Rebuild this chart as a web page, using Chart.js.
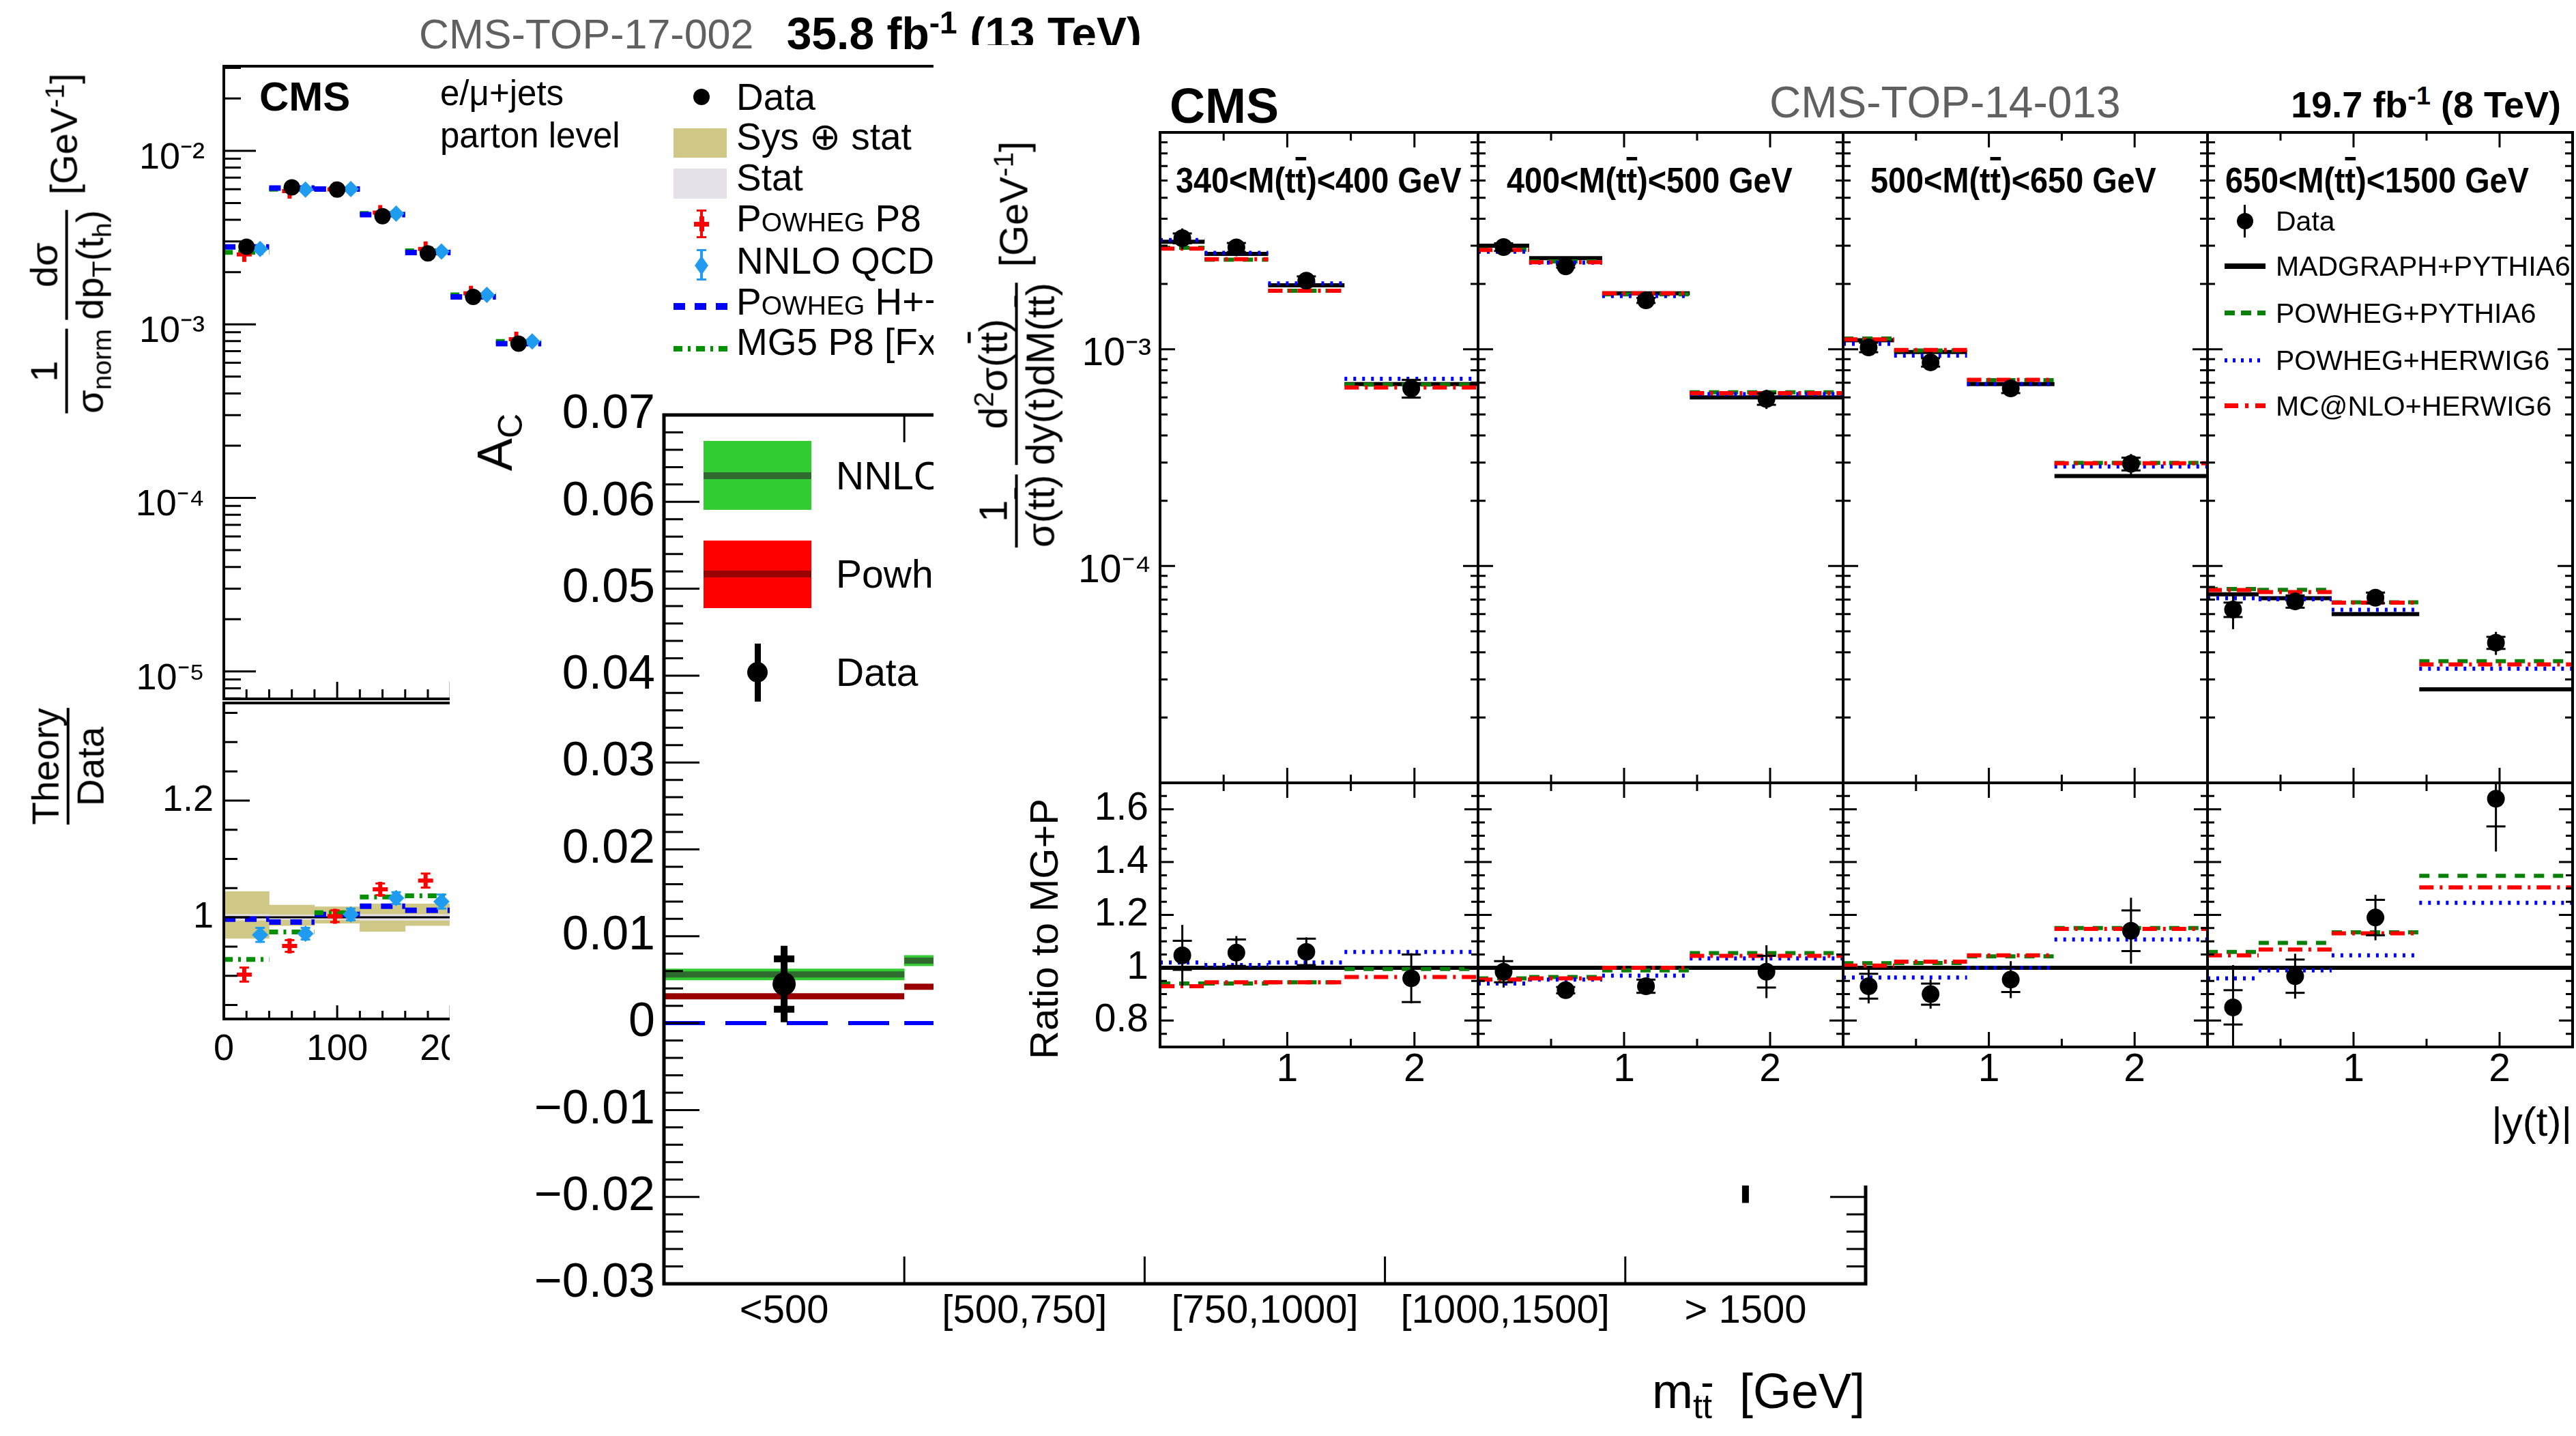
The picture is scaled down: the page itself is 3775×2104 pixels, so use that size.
<!DOCTYPE html>
<html>
<head>
<meta charset="utf-8">
<script src="https://cdn.jsdelivr.net/npm/chart.js@4.4.1/dist/chart.umd.min.js"></script>
<style>
  html, body { margin: 0; padding: 0; background: #fff; }
  body { width: 3775px; height: 2104px; position: relative; overflow: hidden;
         font-family: "Liberation Sans", Arial, Helvetica, sans-serif; }
  .plot { position: absolute; overflow: hidden; background: #fff; }
  .t { position: absolute; white-space: nowrap; line-height: 1; color: #000; }
  .t sub, .t sup { font-size: 0.7em; line-height: 0; }
  .frac { display: inline-flex; flex-direction: column; align-items: center; vertical-align: middle; margin: 0 0.12em; }
  .frac .bar { align-self: stretch; border-top: 0.075em solid #000; margin: 0.06em 0; }
  .ol { text-decoration: overline; }
  .sc { font-variant: small-caps; }
</style>
</head>
<body>
<div id="pL" class="plot" style="left:0;top:0;width:1700px;height:1700px;z-index:1"></div>
<div id="pA" class="plot" style="left:659px;top:545px;width:2101px;height:1559px;z-index:2"></div>
<div id="pR" class="plot" style="left:1368px;top:66px;width:2407px;height:1671px;z-index:3"></div>
<script>
// ===== CMS-TOP-17-002 (13 TeV): normalised dsigma/dpT(t_h), parton level =====
const ptEdges = [0, 40, 80, 120, 160, 200, 240, 280];
const ptTicks = [0, 100, 200, 300, 400, 500, 600, 700, 800];
const ptData = [2.80e-3, 6.15e-3, 5.98e-3, 4.20e-3, 2.56e-3, 1.44e-3, 7.74e-4];
const ptPowhegP8 = [2.53e-3, 5.85e-3, 5.99e-3, 4.40e-3, 2.72e-3, 1.51e-3, 8.2e-4];
const ptNnlo = [2.72e-3, 5.98e-3, 6.01e-3, 4.34e-3, 2.63e-3, 1.48e-3, 7.97e-4];
const ptPowhegHpp = [2.79e-3, 6.10e-3, 6.01e-3, 4.28e-3, 2.59e-3, 1.44e-3, 7.74e-4];
const ptMg5Fxfx = [2.60e-3, 6.00e-3, 6.03e-3, 4.35e-3, 2.65e-3, 1.48e-3, 7.97e-4];
// theory / data
const ratPowhegP8 = [0.902, 0.951, 1.002, 1.048, 1.063, 1.05, 1.06];
const ratNnlo = [0.970, 0.972, 1.005, 1.033, 1.027, 1.03, 1.03];
const ratPowhegHpp = [0.997, 0.992, 1.005, 1.019, 1.012, 1.0, 1.0];
const ratMg5Fxfx = [0.928, 0.975, 1.008, 1.035, 1.037, 1.03, 1.03];
const ratTheoryErr = [0.012, 0.010, 0.010, 0.010, 0.012, 0.012, 0.012];
const sysLo = [0.964, 0.986, 0.990, 0.976, 0.986, 0.970, 0.970];
const sysHi = [1.044, 1.021, 1.018, 1.023, 1.023, 1.030, 1.030];
const statLo = [0.995, 0.996, 0.996, 0.995, 0.995, 0.994, 0.994];
const statHi = [1.005, 1.004, 1.004, 1.005, 1.005, 1.006, 1.006];

// ===== charge asymmetry A_C vs m(tt) =====
const acBins = ['<500', '[500,750]', '[750,1000]', '[1000,1500]', '> 1500'];
const acTicks = [-0.03, -0.02, -0.01, 0, 0.01, 0.02, 0.03, 0.04, 0.05, 0.06, 0.07];
const acNnlo = [0.0056, 0.0072, 0.0090, 0.0110, 0.0140];
const acNnloUnc = [0.00064, 0.0006, 0.0007, 0.0008, 0.0010];
const acPowheg = [0.0031, 0.0042, 0.0058, 0.0068, 0.0085];
const acNoAsym = [0, 0, 0, 0, 0];
const acData = [0.0045, 0.0040, 0.0100, 0.0050, -0.0040];
const acTot = [0.0044, 0.0040, 0.0070, 0.0100, 0.0167];
const acStat = [0.0029, 0.0030, 0.0050, 0.0080, 0.0120];

// ===== CMS-TOP-14-013 (8 TeV): |y(t)| in M(tt) slices =====
const massLo = [340, 400, 500, 650];
const massHi = [400, 500, 650, 1500];
const yEdges = [0, 0.35, 0.85, 1.45, 2.5];
const ratioTicks = [0.8, 1, 1.2, 1.4, 1.6];
const mgUpper = [[3.13e-3, 2.75e-3, 1.97e-3, 6.9e-4], [3.0e-3, 2.63e-3, 1.81e-3, 6.0e-4],
                 [1.1e-3, 9.7e-4, 6.9e-4, 2.6e-4], [7.4e-5, 7.1e-5, 6.0e-5, 2.7e-5]];
const dataUpper = [[3.25e-3, 2.95e-3, 2.07e-3, 6.6e-4], [2.96e-3, 2.41e-3, 1.68e-3, 5.9e-4],
                   [1.02e-3, 8.7e-4, 6.6e-4, 2.96e-4], [6.3e-5, 6.87e-5, 7.14e-5, 4.43e-5]];
const powPyUpper = [[2.94e-3, 2.59e-3, 1.86e-3, 6.87e-4], [2.88e-3, 2.54e-3, 1.79e-3, 6.33e-4],
                    [1.12e-3, 9.87e-4, 7.2e-4, 2.99e-4], [7.84e-5, 7.77e-5, 6.8e-5, 3.64e-5]];
const powHwUpper = [[3.19e-3, 2.78e-3, 2.01e-3, 7.31e-4], [2.82e-3, 2.51e-3, 1.76e-3, 6.21e-4],
                    [1.06e-3, 9.34e-4, 6.9e-4, 2.88e-4], [7.1e-5, 7.03e-5, 6.28e-5, 3.36e-5]];
const mcnloUpper = [[2.91e-3, 2.6e-3, 1.86e-3, 6.66e-4], [2.87e-3, 2.52e-3, 1.81e-3, 6.27e-4],
                    [1.11e-3, 9.92e-4, 7.22e-4, 2.98e-4], [7.75e-5, 7.59e-5, 6.78e-5, 3.52e-5]];
const dataRatio = [[1.047, 1.057, 1.06, 0.96], [0.985, 0.915, 0.93, 0.985],
                   [0.93, 0.90, 0.955, 1.14], [0.85, 0.968, 1.19, 1.64]];
const powPyRatio = [[0.94, 0.94, 0.945, 0.995], [0.96, 0.965, 0.99, 1.055],
                    [1.017, 1.018, 1.043, 1.15], [1.06, 1.094, 1.134, 1.348]];
const powHwRatio = [[1.02, 1.01, 1.02, 1.06], [0.94, 0.955, 0.97, 1.035],
                    [0.963, 0.963, 1.0, 1.107], [0.96, 0.99, 1.047, 1.246]];
const mcnloRatio = [[0.93, 0.945, 0.945, 0.965], [0.955, 0.96, 1.0, 1.045],
                    [1.008, 1.023, 1.047, 1.147], [1.047, 1.069, 1.13, 1.304]];
const dataErrTot = [[0.115, 0.063, 0.055, 0.095], [0.06, 0.015, 0.03, 0.1],
                    [0.065, 0.055, 0.07, 0.125], [0.16, 0.085, 0.086, 0.2]];
const dataErrStat = [[0.055, 0.05, 0.05, 0.09], [0.04, 0.012, 0.025, 0.06],
                     [0.047, 0.04, 0.047, 0.077], [0.065, 0.063, 0.067, 0.105]];

// ---------------------------------------------------------------
const FONT = '"Liberation Sans", Arial, Helvetica, sans-serif';
const SUP = { '-': '\u207B', '0': '\u2070', '1': '\u00B9', '2': '\u00B2', '3': '\u00B3', '4': '\u2074',
              '5': '\u2075', '6': '\u2076', '7': '\u2077', '8': '\u2078', '9': '\u2079' };
const pow10 = v => '10' + String(Math.round(Math.log10(v))).split('').map(c => SUP[c]).join('');
const centers = e => e.slice(0, -1).map((lo, i) => (lo + e[i + 1]) / 2);
const pts = (xs, ys) => xs.map((x, i) => ({ x, y: ys[i] }));
function steps(edges, vals) {
  const out = [];
  vals.forEach((v, i) => out.push({ x: edges[i], y: v }, { x: edges[i + 1], y: v }, { x: edges[i + 1], y: null }));
  return out;
}
const lin = (a, b, s) => { const r = []; const n = Math.round((b - a) / s); for (let i = 0; i <= n; i++) r.push(+(a + i * s).toFixed(6)); return r; };
const decs = (a, b) => lin(a, b, 1).map(e => Math.pow(10, e));
const logMinor = (a, b) => { const r = []; for (let e = a; e < b; e++) for (let k = 2; k <= 9; k++) r.push(k * Math.pow(10, e)); return r; };

// --- error bars drawn through the dataset's own y scale ---
const errBars = {
  id: 'errBars',
  afterDatasetsDraw(chart) {
    const { ctx, chartArea: a } = chart;
    ctx.save();
    ctx.beginPath(); ctx.rect(a.left, a.top, a.right - a.left, a.bottom - a.top); ctx.clip();
    chart.data.datasets.forEach((ds, i) => {
      if (!ds.errTot) return;
      const meta = chart.getDatasetMeta(i);
      const ys = chart.scales[meta.yAxisID];
      const py = v => ys.getPixelForValue(ys.type === 'logarithmic' ? Math.max(v, 1e-12) : v);
      ctx.strokeStyle = ds.errColor || '#000';
      ctx.lineWidth = ds.errWidth || 3;
      meta.data.forEach((pt, j) => {
        const v = ds.data[j].y, e = ds.errTot[j], x = pt.x;
        ctx.beginPath(); ctx.moveTo(x, py(v - e)); ctx.lineTo(x, py(v + e)); ctx.stroke();
        if (ds.capTot) {
          for (const yv of [v - e, v + e]) {
            ctx.beginPath(); ctx.moveTo(x - ds.capTot / 2, py(yv)); ctx.lineTo(x + ds.capTot / 2, py(yv)); ctx.stroke();
          }
        }
        if (ds.errStat) {
          const s = ds.errStat[j];
          for (const yv of [v - s, v + s]) {
            ctx.beginPath(); ctx.moveTo(x - ds.capStat / 2, py(yv)); ctx.lineTo(x + ds.capStat / 2, py(yv)); ctx.stroke();
          }
        }
      });
    });
    ctx.restore();
  }
};

// --- ROOT style frame with inward ticks ---
const rootFrame = {
  id: 'rootFrame',
  afterDatasetsDraw(chart) {
    const o = chart.config.options.plugins.rootFrame;
    if (!o) return;
    const { ctx, chartArea: a, scales } = chart;
    ctx.save();
    ctx.strokeStyle = '#000';
    ctx.lineWidth = 3;
    ctx.beginPath();
    for (const t of o.ticks) {
      const sc = scales[t.axis];
      const lo = Math.min(sc.min, sc.max), hi = Math.max(sc.min, sc.max), eps = (hi - lo) * 1e-6;
      for (const v of t.vals) {
        if (v < lo - eps || v > hi + eps) continue;
        const p = sc.getPixelForValue(v);
        for (const side of t.sides) {
          if (side === 'bottom') { ctx.moveTo(p, a.bottom); ctx.lineTo(p, a.bottom - t.len); }
          if (side === 'top') { ctx.moveTo(p, a.top); ctx.lineTo(p, a.top + t.len); }
          if (side === 'left') { ctx.moveTo(a.left, p); ctx.lineTo(a.left + t.len, p); }
          if (side === 'right') { ctx.moveTo(a.right, p); ctx.lineTo(a.right - t.len, p); }
        }
      }
    }
    ctx.stroke();
    ctx.lineWidth = o.lw;
    ctx.strokeRect(a.left, a.top, a.right - a.left, a.bottom - a.top);
    ctx.restore();
  }
};
Chart.register(errBars, rootFrame);

function xScale(min, max, pad, labels) {
  return {
    type: 'linear', position: 'bottom', min, max, offset: false,
    grid: { display: false, drawTicks: false }, border: { display: false },
    ticks: labels ? { display: true, autoSkip: false, maxRotation: 0, padding: labels.padding, color: '#000',
                      font: { family: FONT, size: labels.size }, callback: labels.fmt } : { display: false },
    afterBuildTicks: s => { if (labels) s.ticks = labels.vals.map(v => ({ value: v })); },
    afterFit: s => { s.height = pad.b; s.paddingLeft = 0; s.paddingRight = 0; }
  };
}
function yScale(type, min, max, pad, labels) {
  return {
    type, position: 'left', min, max,
    grid: { display: false, drawTicks: false }, border: { display: false },
    ticks: labels ? { display: true, autoSkip: false, padding: labels.padding, labelOffset: labels.offset || 0, color: '#000',
                      font: { family: FONT, size: labels.size }, callback: labels.fmt } : { display: false },
    afterBuildTicks: s => { if (labels) s.ticks = labels.vals.map(v => ({ value: v })); },
    afterFit: s => { s.width = pad.l; s.paddingTop = 0; s.paddingBottom = 0; }
  };
}
function mkChart(host, org, box, pad, scales, datasets, frame) {
  const W = box.w + pad.l + pad.r, H = box.h + pad.t + pad.b;
  const cv = document.createElement('canvas');
  cv.width = W; cv.height = H;
  cv.style.cssText = `position:absolute;left:${box.x - pad.l - org.x}px;top:${box.y - pad.t - org.y}px;width:${W}px;height:${H}px`;
  host.appendChild(cv);
  return new Chart(cv, {
    type: 'line',
    data: { datasets },
    options: {
      responsive: false, animation: false, events: [],
      layout: { padding: { left: 0, right: pad.r, top: pad.t, bottom: 0 }, autoPadding: false },
      plugins: { legend: { display: false }, tooltip: { enabled: false }, rootFrame: frame },
      scales
    }
  });
}
const stepLine = (data, color, width, dash, order) =>
  ({ data, borderColor: color, borderWidth: width, borderDash: dash, pointRadius: 0, fill: false, spanGaps: false, order });
const band = (xs, lo, hi, color, order) =>
  ({ type: 'bar', data: xs.map((x, i) => ({ x, y: [lo[i], hi[i]] })), backgroundColor: color, borderWidth: 0,
     grouped: false, barPercentage: 1, categoryPercentage: 1, order });

// --- html text helpers ---
function txt(host, org, html, x, base, size, o = {}) {
  const d = document.createElement('div');
  d.className = 't';
  d.innerHTML = html;
  d.style.fontSize = size + 'px';
  d.style.left = (x - org.x) + 'px';
  d.style.top = (base - org.y - 0.8465 * size) + 'px';
  if (o.bold) d.style.fontWeight = 'bold';
  if (o.color) d.style.color = o.color;
  if (o.align === 'right') d.style.transform = 'translateX(-100%)';
  if (o.sx) { d.style.transform = `scaleX(${o.sx})`; d.style.transformOrigin = '0 0'; }
  host.appendChild(d);
}
function rot(host, org, html, cx, cy, size) {
  const d = document.createElement('div');
  d.className = 't';
  d.innerHTML = html;
  d.style.fontSize = size + 'px';
  d.style.left = (cx - org.x) + 'px';
  d.style.top = (cy - org.y) + 'px';
  d.style.transform = 'translate(-50%,-50%) rotate(-90deg)';
  host.appendChild(d);
}
function el(host, org, x, y, w, h, css) {
  const d = document.createElement('div');
  d.style.cssText = `position:absolute;left:${x - org.x}px;top:${y - org.y}px;width:${w}px;height:${h}px;${css}`;
  host.appendChild(d);
}
const dot = (host, org, cx, cy, r, c) => el(host, org, cx - r, cy - r, 2 * r, 2 * r, `background:${c};border-radius:50%`);
const frac = (n, d) => `<span class="frac"><span>${n}</span><span class="bar"></span><span>${d}</span></span>`;
const TT = 't<span class="ol">t</span>';

// ================= left plot =================
const L = document.getElementById('pL');
const oL = { x: 0, y: 0 };
const ptMid = centers(ptEdges);
const boxLU = { x: 328, y: 97, w: 1329, h: 927 }, padLU = { l: 328, r: 43, t: 97, b: 6 };
mkChart(L, oL, boxLU, padLU, {
  x: xScale(0, 800, padLU, null),
  y: yScale('logarithmic', 6.95e-6, 0.0307, padLU, { vals: [1e-5, 1e-4, 1e-3, 1e-2], fmt: pow10, size: 54, padding: 28, offset: 11 })
}, [
  { data: pts(ptMid, ptData), showLine: false, pointRadius: 12, pointBackgroundColor: '#000', pointBorderWidth: 0, order: 0 },
  { data: pts(ptMid.map(x => x - 2), ptPowhegP8), showLine: false, pointStyle: 'cross', pointRadius: 11,
    pointBorderColor: '#ff0000', pointBorderWidth: 6, order: 1 },
  { data: pts(ptMid.map(x => x + 12), ptNnlo), showLine: false, pointStyle: 'rectRot', pointRadius: 12,
    pointBackgroundColor: '#1f9cf0', pointBorderWidth: 0, order: 2 },
  stepLine(steps(ptEdges, ptPowhegHpp), '#0000ff', 8, [17, 14], 3),
  stepLine(steps(ptEdges, ptMg5Fxfx), '#009000', 7, [13, 8, 4, 8], 4)
], { lw: 4, ticks: [
  { axis: 'y', vals: decs(-5, -2), len: 47, sides: ['left'] },
  { axis: 'y', vals: logMinor(-6, -1), len: 25, sides: ['left'] },
  { axis: 'x', vals: lin(0, 800, 100), len: 25, sides: ['bottom'] },
  { axis: 'x', vals: lin(0, 800, 20), len: 14, sides: ['bottom'] }
] });

const boxLR = { x: 328, y: 1030, w: 1329, h: 463 }, padLR = { l: 328, r: 43, t: 4, b: 80 };
mkChart(L, oL, boxLR, padLR, {
  x: xScale(0, 800, padLR, { vals: ptTicks, fmt: v => String(v), size: 54, padding: 13 }),
  y: yScale('linear', 0.826, 1.367, padLR, { vals: [1, 1.2], fmt: v => (v === 1 ? '1' : v.toFixed(1)), size: 54, padding: 15 })
}, [
  { data: pts(ptMid.map(x => x + 12), ratNnlo), showLine: false, pointStyle: 'rectRot', pointRadius: 12,
    pointBackgroundColor: '#1f9cf0', pointBorderWidth: 0, errTot: ratTheoryErr, capTot: 14, errWidth: 3, errColor: '#1f9cf0', order: 0 },
  { data: pts(ptMid.map(x => x - 2), ratPowhegP8), showLine: false, pointStyle: 'cross', pointRadius: 11,
    pointBorderColor: '#ff0000', pointBorderWidth: 6, errTot: ratTheoryErr, capTot: 14, errWidth: 3, errColor: '#ff0000', order: 1 },
  stepLine(steps(ptEdges, ratMg5Fxfx), '#009000', 7, [13, 8, 4, 8], 2),
  stepLine(steps(ptEdges, ratPowhegHpp), '#0000ff', 8, [17, 14], 3),
  stepLine([{ x: 0, y: 1 }, { x: 800, y: 1 }], '#000', 3, [], 4),
  band(ptMid, statLo, statHi, '#e6e1e8', 9),
  band(ptMid, sysLo, sysHi, '#d0c887', 10)
], { lw: 4, ticks: [
  { axis: 'y', vals: [1, 1.2], len: 38, sides: ['left'] },
  { axis: 'y', vals: lin(0.85, 1.35, 0.05), len: 20, sides: ['left'] },
  { axis: 'x', vals: lin(0, 800, 100), len: 20, sides: ['bottom'] },
  { axis: 'x', vals: lin(0, 800, 20), len: 12, sides: ['bottom'] }
] });

txt(L, oL, 'CMS-TOP-17-002', 614, 72, 61, { color: '#606060' });
txt(L, oL, '35.8 fb<sup>-1</sup> (13 TeV)', 1673, 72, 66, { bold: true, align: 'right' });
txt(L, oL, 'CMS', 380, 163, 60, { bold: true });
txt(L, oL, 'e/\u03BC+jets', 645, 154, 51);
txt(L, oL, 'parton level', 645, 216, 51);
const legL = ['Data', 'Sys \u2295 stat', 'Stat', '<span class="sc">Powheg</span> P8', 'NNLO QCD',
              '<span class="sc">Powheg</span> H++', 'MG5 P8 [FxFx]'];
const legLBase = [162, 220, 280, 340, 402, 462, 521];
legL.forEach((s, i) => txt(L, oL, s, 1079, legLBase[i], 55));
dot(L, oL, 1028, 142, 12, '#000');
el(L, oL, 987, 188, 78, 43, 'background:#d0c887');
el(L, oL, 987, 247, 78, 44, 'background:#e6e1e8');
el(L, oL, 1026, 309, 4, 39, 'background:#ff0000');
el(L, oL, 1021, 307, 14, 3, 'background:#ff0000');
el(L, oL, 1021, 346, 14, 3, 'background:#ff0000');
el(L, oL, 1017, 325, 22, 7, 'background:#ff0000');
el(L, oL, 1025, 317, 7, 22, 'background:#ff0000');
el(L, oL, 1026, 367, 4, 43, 'background:#1f9cf0');
el(L, oL, 1021, 365, 14, 3, 'background:#1f9cf0');
el(L, oL, 1021, 408, 14, 3, 'background:#1f9cf0');
el(L, oL, 1018, 379, 20, 20, 'background:#1f9cf0;transform:scaleX(0.7) rotate(45deg)');
el(L, oL, 987, 444, 79, 10, 'background:repeating-linear-gradient(90deg,#0000ff 0 17px,transparent 17px 31px)');
el(L, oL, 987, 507, 79, 8, 'background:repeating-linear-gradient(90deg,#009000 0 13px,transparent 13px 21px,#009000 21px 25px,transparent 25px 33px)');
rot(L, oL, frac('1', '\u03C3<sub>norm</sub>') + frac('d\u03C3', 'dp<sub>T</sub>(t<sub>h</sub>)') + ' [GeV<sup>-1</sup>]', 98, 360, 56);
rot(L, oL, frac('Theory', 'Data'), 100, 1123, 55);

// ================= A_C plot =================
const A = document.getElementById('pA');
const oA = { x: 659, y: 545 };
const acEdges = lin(0, 5, 1);
const acMid = centers(acEdges);
const boxA = { x: 973, y: 608, w: 1761, h: 1273 }, padA = { l: 314, r: 20, t: 60, b: 110 };
const fmtAc = v => (Math.abs(v) < 1e-9 ? '0' : (v < 0 ? '\u2212' : '') + Math.abs(v).toFixed(2));
mkChart(A, oA, boxA, padA, {
  x: xScale(0, 5, padA, { vals: acMid, fmt: v => acBins[Math.floor(v)], size: 58, padding: 6 }),
  y: yScale('linear', -0.03, 0.07, padA, { vals: acTicks, fmt: fmtAc, size: 70, padding: 13 })
}, [
  { data: pts(acMid, acData), showLine: false, pointRadius: 17, pointBackgroundColor: '#000', pointBorderWidth: 0,
    errTot: acTot, errStat: acStat, capStat: 30, errWidth: 10, order: 0 },
  stepLine(steps(acEdges, acPowheg), '#990000', 9, [], 1),
  stepLine(steps(acEdges, acNnlo), '#2f6b2f', 9, [], 2),
  stepLine(steps(acEdges, acNoAsym), '#0000ff', 6, [60, 30], 3),
  band(acMid, acNnlo.map((v, i) => v - acNnloUnc[i]), acNnlo.map((v, i) => v + acNnloUnc[i]), '#33cc33', 10)
], { lw: 5, ticks: [
  { axis: 'y', vals: acTicks, len: 52, sides: ['left', 'right'] },
  { axis: 'y', vals: lin(-0.03, 0.07, 0.002), len: 28, sides: ['left', 'right'] },
  { axis: 'x', vals: [1, 2, 3, 4], len: 40, sides: ['top', 'bottom'] }
] });
rot(A, oA, 'A<sub>C</sub>', 725, 648, 72);
el(A, oA, 1031, 646, 158, 101, 'background:#33cc33');
el(A, oA, 1031, 692, 158, 10, 'background:#2f6b2f');
el(A, oA, 1031, 792, 158, 99, 'background:#ff0000');
el(A, oA, 1031, 836, 158, 10, 'background:#990000');
el(A, oA, 1106, 943, 9, 85, 'background:#000');
dot(A, oA, 1110, 985, 15, '#000');
txt(A, oA, 'NNLO QCD+EW', 1225, 717, 57);
txt(A, oA, 'Powheg+Pythia8', 1225, 861, 57);
txt(A, oA, 'Data', 1225, 1005, 57);
txt(A, oA, 'm<sub>' + TT + '</sub>&nbsp;&nbsp;[GeV]', 2733, 2063, 72, { align: 'right' });

// ================= right plot =================
const R = document.getElementById('pR');
const oR = { x: 1368, y: 66 };
const panelX = [1700, 2166, 2701, 3235, 3770];
const yMid = centers(yEdges);
const xTicksR = [
  { axis: 'x', vals: [1, 2], len: 22, sides: ['top', 'bottom'] },
  { axis: 'x', vals: [0.5, 1.5], len: 12, sides: ['top', 'bottom'] }
];
for (let p = 0; p < 4; p++) {
  const w = panelX[p + 1] - panelX[p];
  const boxU = { x: panelX[p], y: 194, w, h: 953 };
  const padU = { l: p ? 2 : 200, r: 2, t: 2, b: 2 };
  mkChart(R, oR, boxU, padU, {
    x: xScale(0, 2.5, padU, null),
    y: yScale('logarithmic', 1e-5, 1e-2, padU, p ? null : { vals: [1e-4, 1e-3], fmt: pow10, size: 57, padding: 13, offset: 8 })
  }, [
    { data: pts(yMid, dataUpper[p]), showLine: false, pointRadius: 13, pointBackgroundColor: '#000', pointBorderWidth: 0,
      errTot: dataUpper[p].map((v, i) => v * dataErrTot[p][i] / dataRatio[p][i]),
      errStat: dataUpper[p].map((v, i) => v * dataErrStat[p][i] / dataRatio[p][i]), capStat: 28, errWidth: 3, order: 0 },
    stepLine(steps(yEdges, mcnloUpper[p]), '#ff0000', 6, [21, 9, 4, 9], 1),
    stepLine(steps(yEdges, powHwUpper[p]), '#0000ff', 6, [4, 9], 2),
    stepLine(steps(yEdges, powPyUpper[p]), '#0a7f0a', 6, [15, 13], 3),
    stepLine(steps(yEdges, mgUpper[p]), '#000', 6, [], 4)
  ], { lw: 4, ticks: [
    { axis: 'y', vals: decs(-5, -2), len: 22, sides: ['left', 'right'] },
    { axis: 'y', vals: logMinor(-5, -2), len: 11, sides: ['left', 'right'] }
  ].concat(xTicksR) });

  const boxD = { x: panelX[p], y: 1147, w, h: 387 };
  const padD = { l: p ? 2 : 200, r: 2, t: 2, b: 80 };
  mkChart(R, oR, boxD, padD, {
    x: xScale(0, 2.5, padD, { vals: [1, 2], fmt: v => String(v), size: 57, padding: 0 }),
    y: yScale('linear', 0.7, 1.7, padD, p ? null : { vals: ratioTicks, fmt: v => (v === 1 ? '1' : v.toFixed(1)), size: 57, padding: 17 })
  }, [
    { data: pts(yMid, dataRatio[p]), showLine: false, pointRadius: 13, pointBackgroundColor: '#000', pointBorderWidth: 0,
      errTot: dataErrTot[p], errStat: dataErrStat[p], capStat: 28, errWidth: 3, order: 0 },
    stepLine(steps(yEdges, mcnloRatio[p]), '#ff0000', 6, [21, 9, 4, 9], 1),
    stepLine(steps(yEdges, powHwRatio[p]), '#0000ff', 6, [4, 9], 2),
    stepLine(steps(yEdges, powPyRatio[p]), '#0a7f0a', 6, [15, 13], 3),
    stepLine([{ x: 0, y: 1 }, { x: 2.5, y: 1 }], '#000', 6, [], 4)
  ], { lw: 4, ticks: [
    { axis: 'y', vals: ratioTicks, len: 20, sides: ['left', 'right'] },
    { axis: 'y', vals: lin(0.7, 1.7, 0.05), len: 10, sides: ['left', 'right'] }
  ].concat(xTicksR) });
}
txt(R, oR, 'CMS', 1714, 180, 72, { bold: true });
txt(R, oR, 'CMS-TOP-14-013', 2593, 172, 64, { color: '#606060' });
txt(R, oR, '19.7 fb<sup>-1</sup> (8 TeV)', 3753, 172, 54, { bold: true, align: 'right' });
const labX = [1723, 2208, 2741, 3261];
massLo.forEach((lo, i) => txt(R, oR, `${lo}&lt;M(${TT})&lt;${massHi[i]} GeV`, labX[i], 282, 52, { bold: true, sx: 0.9 }));
const legR = ['Data', 'MADGRAPH+PYTHIA6', 'POWHEG+PYTHIA6', 'POWHEG+HERWIG6', 'MC@NLO+HERWIG6'];
const legRBase = [339, 405, 474, 543, 610];
legR.forEach((s, i) => txt(R, oR, s, 3335, legRBase[i], 41));
el(R, oR, 3288, 300, 3, 48, 'background:#000');
dot(R, oR, 3290, 324, 12, '#000');
el(R, oR, 3260, 386, 60, 8, 'background:#000');
el(R, oR, 3260, 455, 60, 7, 'background:repeating-linear-gradient(90deg,#0a7f0a 0 15px,transparent 15px 24px)');
el(R, oR, 3260, 525, 60, 6, 'background:repeating-linear-gradient(90deg,#0000ff 0 4px,transparent 4px 12px)');
el(R, oR, 3260, 591, 60, 7, 'background:repeating-linear-gradient(90deg,#ff0000 0 20px,transparent 20px 30px,#ff0000 30px 35px,transparent 35px 45px)');
rot(R, oR, frac('1', '\u03C3(' + TT + ')') + frac('d<sup>2</sup>\u03C3(' + TT + ')', 'dy(t)dM(' + TT + ')') + ' [GeV<sup>-1</sup>]', 1490, 508, 58);
rot(R, oR, 'Ratio to MG+P', 1530, 1361, 58);
txt(R, oR, '|y(t)|', 3769, 1665, 60, { align: 'right' });
</script>
</body>
</html>
